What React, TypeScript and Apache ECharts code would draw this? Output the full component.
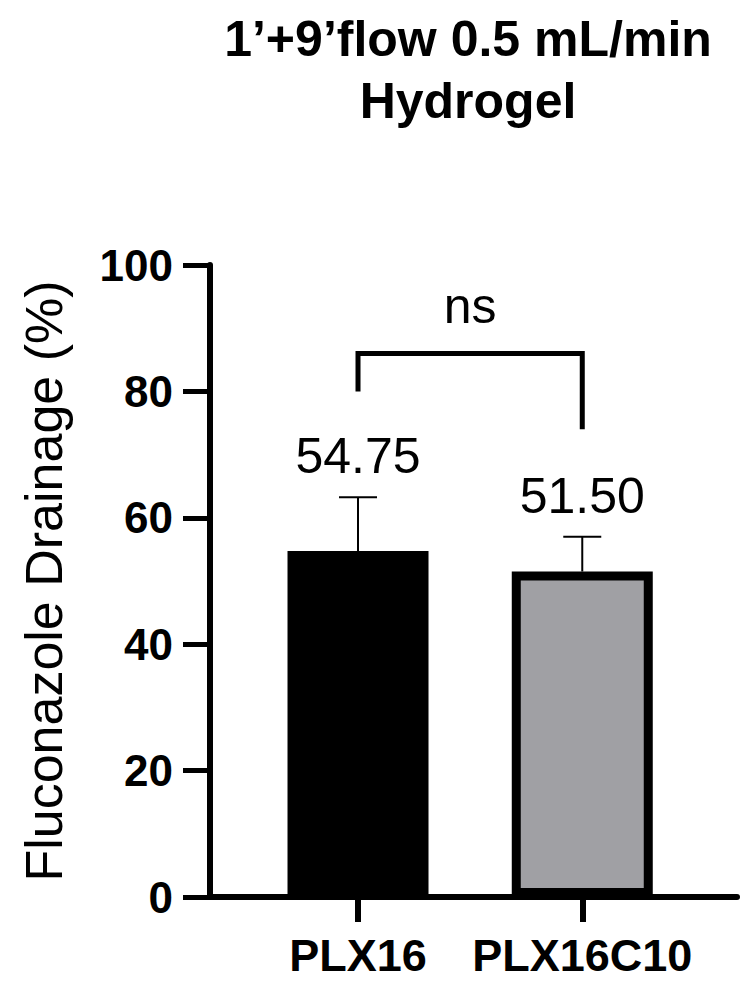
import { useEffect, useRef } from 'react';
import * as echarts from 'echarts';

const categories = ['PLX16', 'PLX16C10'];
const means = [54.75, 51.5];
const errors = [8.5, 5.5];
const barColors = ['#000000', '#a0a0a4'];
const yTicks = [0, 20, 40, 60, 80, 100];
// significance bracket (in % units): top, left leg end, right leg end, label level
const bracketTop = 86;
const bracketEnds = [80, 74];
const nsLevel = 93.5;

const FONT = 'Liberation Sans, Arial, sans-serif';

function buildOption() {
  return {
    animation: false,
    backgroundColor: '#fff',
    graphic: [
      {
        type: 'text',
        x: 468,
        y: 8,
        style: {
          text: '1’+9’flow 0.5 mL/min\nHydrogel',
          fontFamily: FONT,
          fontSize: 50,
          fontWeight: 'bold',
          lineHeight: 62,
          fill: '#000',
          align: 'center',
          verticalAlign: 'top',
        },
      },
    ],
    grid: { left: 210, right: 17, top: 265, bottom: 94, outerBoundsMode: 'none' },
    xAxis: {
      type: 'value',
      min: -0.66,
      max: 1.69,
      axisLine: { onZero: false, lineStyle: { color: '#000', width: 6 } },
      axisTick: { customValues: [0, 1], length: 25, lineStyle: { color: '#000', width: 6 } },
      axisLabel: {
        customValues: [0, 1],
        formatter: (v: number) => categories[Math.round(v)] ?? '',
        fontFamily: FONT,
        fontSize: 45,
        fontWeight: 'bold',
        color: '#000',
        margin: 36,
      },
      splitLine: { show: false },
    },
    yAxis: {
      type: 'value',
      min: yTicks[0],
      max: yTicks[yTicks.length - 1],
      interval: yTicks[1] - yTicks[0],
      name: 'Fluconazole Drainage (%)',
      nameLocation: 'middle',
      nameGap: 140,
      nameTextStyle: { fontFamily: FONT, fontSize: 52, color: '#000' },
      axisLine: { show: true, onZero: false, lineStyle: { color: '#000', width: 6 } },
      axisTick: { show: true, length: 27, lineStyle: { color: '#000', width: 5 } },
      axisLabel: {
        fontFamily: FONT,
        fontSize: 44,
        fontWeight: 'bold',
        color: '#000',
        margin: 37,
      },
      splitLine: { show: false },
    },
    series: [
      {
        type: 'bar',
        barWidth: 141,
        data: means.map((m, i) => ({ value: [i, m], itemStyle: { color: barColors[i] } })),
        itemStyle: { borderColor: '#000', borderWidth: 9 },
        z: 2,
      },
      {
        type: 'custom',
        clip: false,
        z: 3,
        data: means.map((m, i) => [i, m, errors[i]]),
        renderItem: (params: any, api: any) => {
          const x = api.value(0);
          const m = api.value(1);
          const e = api.value(2);
          const base = api.coord([x, m]);
          const top = api.coord([x, m + e]);
          const line = { stroke: '#000', lineWidth: 2 };
          return {
            type: 'group',
            children: [
              { type: 'line', shape: { x1: base[0], y1: base[1], x2: top[0], y2: top[1] }, style: line },
              { type: 'line', shape: { x1: top[0] - 19, y1: top[1], x2: top[0] + 19, y2: top[1] }, style: line },
              {
                type: 'text',
                x: top[0],
                y: top[1] - 41,
                style: {
                  text: means[params.dataIndex].toFixed(2),
                  fontFamily: FONT,
                  fontSize: 50,
                  fill: '#000',
                  align: 'center',
                  verticalAlign: 'middle',
                },
              },
            ],
          };
        },
      },
      {
        type: 'custom',
        clip: false,
        z: 3,
        data: [[0, 1, bracketTop, bracketEnds[0], bracketEnds[1], nsLevel]],
        renderItem: (params: any, api: any) => {
          const x0 = api.value(0);
          const x1 = api.value(1);
          const a = api.coord([x0, api.value(3)]);
          const b = api.coord([x0, api.value(2)]);
          const c = api.coord([x1, api.value(2)]);
          const d = api.coord([x1, api.value(4)]);
          const t = api.coord([(x0 + x1) / 2, api.value(5)]);
          return {
            type: 'group',
            children: [
              {
                type: 'polyline',
                shape: { points: [a, b, c, d] },
                style: { stroke: '#000', lineWidth: 5, fill: null, lineJoin: 'miter' },
              },
              {
                type: 'text',
                x: t[0],
                y: t[1],
                style: {
                  text: 'ns',
                  fontFamily: FONT,
                  fontSize: 50,
                  fill: '#000',
                  align: 'center',
                  verticalAlign: 'middle',
                },
              },
            ],
          };
        },
      },
    ],
  };
}

export default function App() {
  const chartRef = useRef<HTMLDivElement>(null);

  useEffect(() => {
    if (!chartRef.current) return;
    const chart = echarts.init(chartRef.current, null, { renderer: 'svg' });
    chart.setOption(buildOption() as any);
    return () => {
      chart.dispose();
    };
  }, []);

  return (
    <div
      ref={chartRef}
      style={{ position: 'absolute', left: 0, top: 0, width: 754, height: 991 }}
    ></div>
  );
}
